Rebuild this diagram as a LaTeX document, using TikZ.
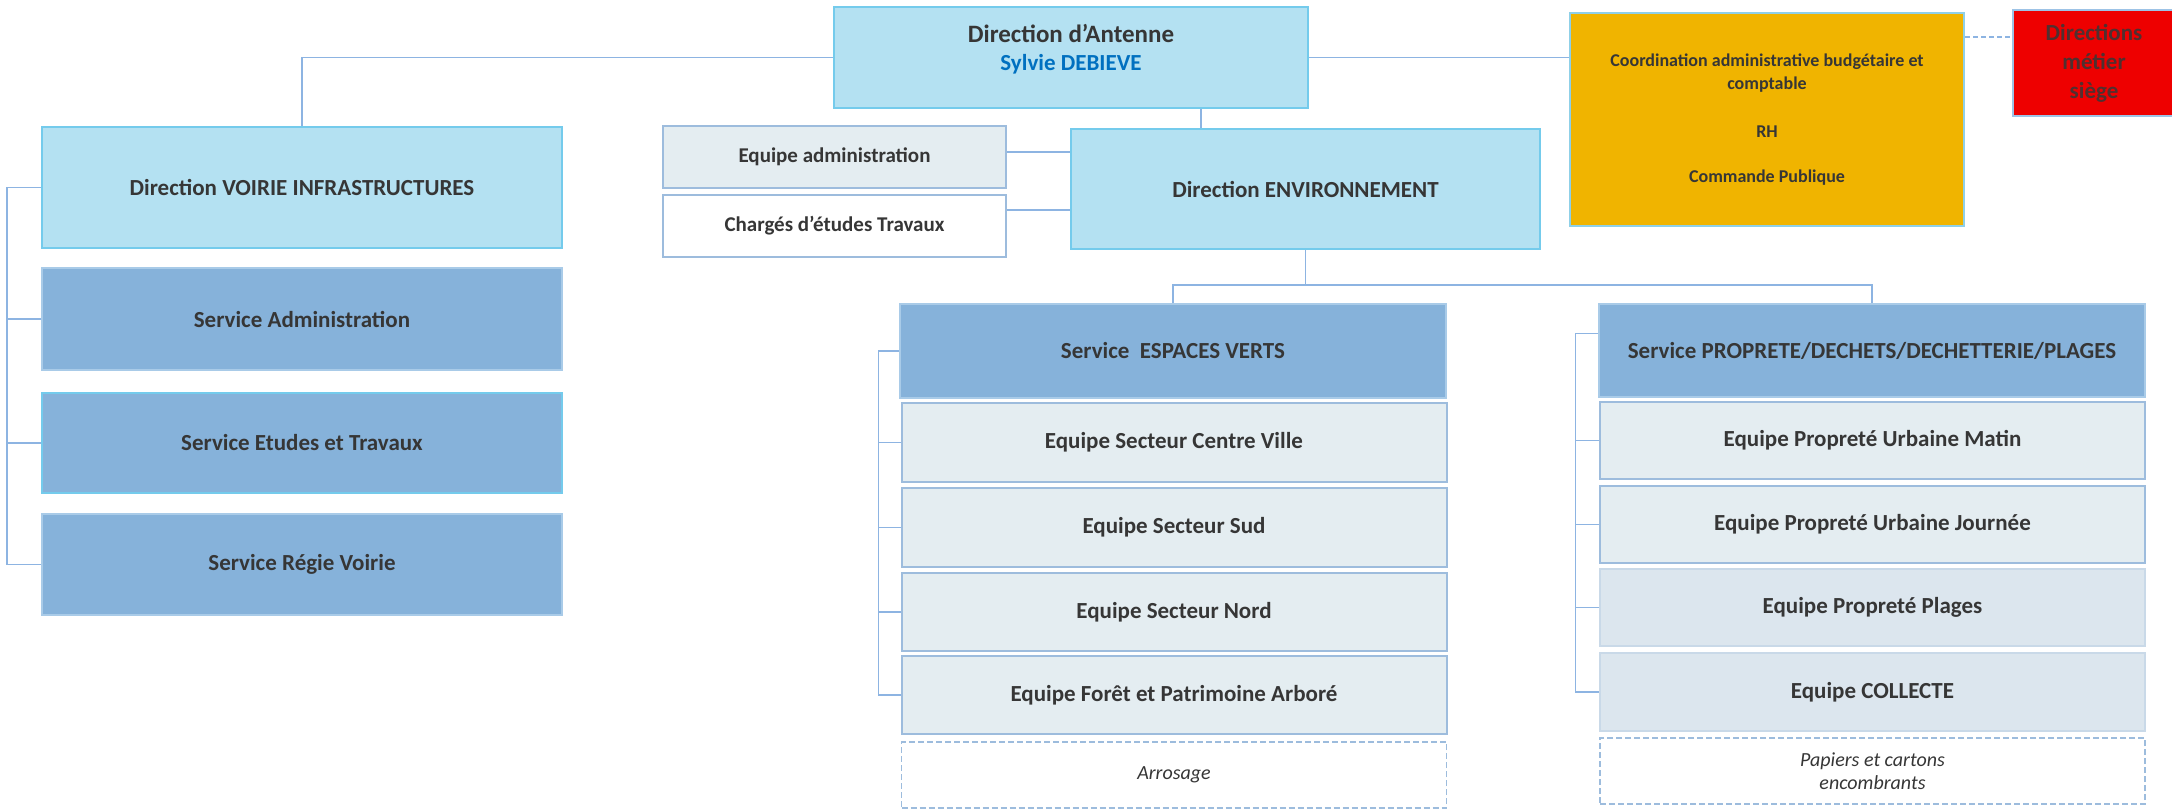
\documentclass[tikz,border=0pt]{standalone}
\usepackage{fontspec}
\setmainfont{Carlito}
\usetikzlibrary{calc}
\definecolor{dirfill}{HTML}{B4E1F2}
\definecolor{dirborder}{HTML}{74CBEC}
\definecolor{svcfill}{HTML}{86B2DA}
\definecolor{svcborder}{HTML}{A9CBE8}
\definecolor{eqfill}{HTML}{E4EDF1}
\definecolor{eqborder}{HTML}{9DBCDD}
\definecolor{eqfillb}{HTML}{DCE6EE}
\definecolor{eqborderb}{HTML}{C9D9E8}
\definecolor{coordfill}{HTML}{F0B400}
\definecolor{coordborder}{HTML}{8FD0E8}
\definecolor{redfill}{HTML}{EE0000}
\definecolor{redborder}{HTML}{9DC3E6}
\definecolor{conncol}{HTML}{8DB4E2}
\definecolor{txtcol}{HTML}{363636}
\definecolor{namecol}{HTML}{0070C0}
\definecolor{redtxt}{HTML}{503030}
\tikzset{
  box/.style={inner sep=0pt, align=center, text=txtcol, font=\bfseries\fontsize{23}{28}\selectfont},
  dirbox/.style={box, fill=dirfill, draw=dirborder, line width=2.5pt},
  svcbox/.style={box, fill=svcfill, draw=svcborder, line width=1.2pt},
  eqbox/.style={box, fill=eqfill, draw=eqborder, line width=2pt},
  eqboxb/.style={box, fill=eqfillb, draw=eqborderb, line width=1.5pt},
  dashbox/.style={box, fill=white, draw=eqborder, dashed, dash pattern=on 6pt off 3pt, line width=1.5pt, font=\itshape\fontsize{20}{23}\selectfont},
  link/.style={draw=conncol, line width=1.6pt},
  dlink/.style={link, dashed, dash pattern=on 5pt off 3pt},
  wh/.style 2 args={minimum width=#1pt, minimum height=#2pt}
}
\begin{document}
\begin{tikzpicture}[x=1pt,y=-1pt]
\useasboundingbox (0,0) rectangle (2172,809);
% top
\node[dirbox, wh={474}{101}] (dir) at (1071,57.5) {};
\node[box, font=\bfseries\fontsize{25}{28}\selectfont] (dirtxt) at (1071,49) {Direction d’Antenne\\\textcolor{namecol}{\fontsize{23}{28}\selectfont Sylvie DEBIEVE}};
\node[box, fill=coordfill, draw=coordborder, line width=2pt, wh={394}{213}, font=\bfseries\fontsize{18}{23}\selectfont] (coord) at (1767,119.5)
  {Coordination administrative budgétaire et\\comptable\\[25pt]RH\\[22pt]Commande Publique};
\node[box, fill=redfill, draw=redborder, line width=1.5pt, wh={162}{106}, text=redtxt, font=\bfseries\fontsize{23}{29}\selectfont] (red) at (2094,63) {Directions\\métier\\siège};
% voirie
\node[dirbox, wh={520}{121}] (voirie) at (302,187.5) {Direction VOIRIE INFRASTRUCTURES};
\node[svcbox, wh={520}{102}] (sadmin) at (302,319) {Service Administration};
\node[svcbox, draw=dirborder, line width=1.5pt, wh={520}{100}] (setudes) at (302,443) {Service Etudes et Travaux};
\node[svcbox, wh={520}{101}] (sregie) at (302,564.5) {Service Régie Voirie};
% environnement
\node[eqbox, wh={343}{62}, font=\bfseries\fontsize{21}{26}\selectfont] (eqadm) at (834.5,157) {Equipe administration};
\node[eqbox, fill=white, wh={343}{62}, font=\bfseries\fontsize{21}{26}\selectfont] (charg) at (834.5,226) {Chargés d’études Travaux};
\node[dirbox, wh={469}{120}] (env) at (1305.5,189) {Direction ENVIRONNEMENT};
% espaces verts
\node[svcbox, wh={546}{94}] (evsvc) at (1173,351) {Service\ \ ESPACES VERTS};
\node[eqbox, wh={545}{79}] (cv) at (1174,442.5) {Equipe Secteur Centre Ville};
\node[eqbox, wh={545}{79}] (sud) at (1174,527.5) {Equipe Secteur Sud};
\node[eqbox, wh={545}{78}] (nord) at (1174,612) {Equipe Secteur Nord};
\node[eqbox, wh={545}{78}] (foret) at (1174,695) {Equipe Forêt et Patrimoine Arboré};
\node[dashbox, wh={545}{66}] (arros) at (1174,775) {Arrosage};
% proprete
\node[svcbox, wh={546}{93}] (psvc) at (1872,350.5) {Service PROPRETE/DECHETS/DECHETTERIE/PLAGES};
\node[eqbox, wh={545}{77}] (matin) at (1872.5,440.5) {Equipe Propreté Urbaine Matin};
\node[eqbox, wh={545}{77}] (journee) at (1872.5,524.5) {Equipe Propreté Urbaine Journée};
\node[eqboxb, wh={545}{77}] (plages) at (1872.5,607.5) {Equipe Propreté Plages};
\node[eqboxb, wh={545}{78}] (collecte) at (1872.5,692) {Equipe COLLECTE};
\node[dashbox, wh={545}{66}, font=\itshape\fontsize{20}{23}\selectfont] (papiers) at (1872.5,771) {Papiers et cartons\\encombrants};
% connectors
\draw[link] (dir.west) -| (voirie.north);
\draw[link] (dir.east) -- (dir.east -| coord.west);
\draw[dlink] ([yshift=-25pt]coord.north east) -- ([yshift=-25pt]coord.north east -| red.west);
\draw[link] ([xshift=130pt]dir.south) -- ([xshift=130pt]dir.south |- env.north);
\draw[link] ([yshift=5pt]eqadm.east) -- ([yshift=5pt]eqadm.east -| env.west);
\draw[link] ([yshift=16pt]charg.east) -- ([yshift=16pt]charg.east -| env.west);
\draw[link] (env.south) -- ++(0,35) coordinate (envj);
\draw[link] (evsvc.north) |- (envj) -| (psvc.north);
% voirie bracket
\draw[link] (voirie.west) -- ++(-34,0) coordinate (vb) |- (sregie.west);
\draw[link] (sadmin.west) -- (sadmin.west -| vb);
\draw[link] (setudes.west) -- (setudes.west -| vb);
% espaces verts bracket
\draw[link] (evsvc.west) -- ++(-21,0) coordinate (eb) |- (foret.west);
\draw[link] (cv.west) -- (cv.west -| eb);
\draw[link] (sud.west) -- (sud.west -| eb);
\draw[link] (nord.west) -- (nord.west -| eb);
% proprete bracket
\draw[link] ([yshift=17pt]psvc.west) -- ++(-23,0) coordinate (pb) |- (collecte.west);
\draw[link] (matin.west) -- (matin.west -| pb);
\draw[link] (journee.west) -- (journee.west -| pb);
\draw[link] (plages.west) -- (plages.west -| pb);
\end{tikzpicture}
\end{document}
